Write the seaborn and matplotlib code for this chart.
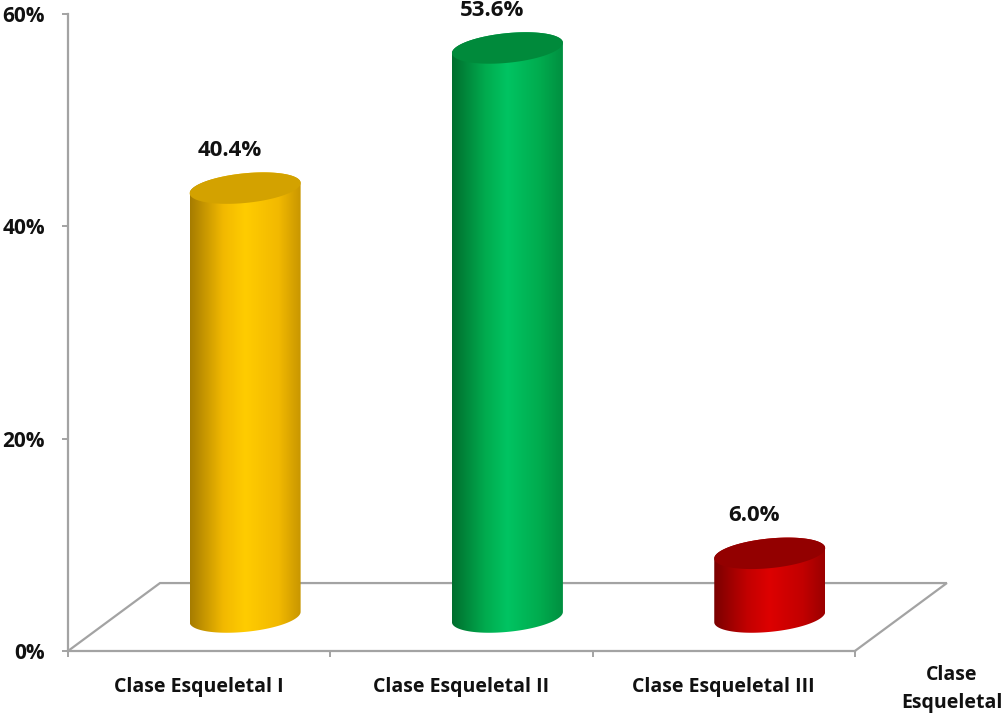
import numpy as np
import pandas as pd
import seaborn as sns
import matplotlib.pyplot as plt
from matplotlib.colors import LinearSegmentedColormap
from matplotlib.path import Path
from matplotlib.patches import PathPatch

categories = ["Clase Esqueletal I", "Clase Esqueletal II", "Clase Esqueletal III"]
values = [40.4, 53.6, 6.0]
value_labels = ["40.4%", "53.6%", "6.0%"]
y_ticks = [0, 20, 40, 60]
y_tick_labels = ["0%", "20%", "40%", "60%"]
axis_title = "Clase\nEsqueletal"

# cylinder shading: left edge, body, highlight, right edge, top face
shades = [
    ("#a67c00", "#f2b900", "#ffcc00", "#c89600", "#d3a200"),
    ("#006e2e", "#00ab4e", "#00c462", "#008f40", "#008a3b"),
    ("#7a0000", "#c20000", "#dd0000", "#9a0000", "#930000"),
]

GRAY = "#a3a3a3"
TEXT = "#111111"
DX, DY = 0.3507, 6.4          # floor depth (x in category units, y in percent)
ELL_B, SHEAR = 1.4, 2.3       # ellipse half-height (%) and tilt (% per unit)

sns.set_theme(style="white")
plt.rcParams["font.family"] = ["Open Sans", "DejaVu Sans"]

fig = plt.figure(figsize=(10.05, 7.15), dpi=100)
ax = fig.add_axes([68 / 1005, 1 - 651 / 715, (948 - 68) / 1005, (651 - 14) / 715])

df = pd.DataFrame({"clase": categories, "pct": values})
sns.barplot(data=df, x="clase", y="pct", width=0.423, ax=ax,
            color="white", saturation=1, errorbar=None)


def ellipse_pts(cx, cy, a, t):
    x = cx + a * np.cos(t)
    y = cy + ELL_B * np.sin(t) + SHEAR * a * np.cos(t)
    return x, y


for patch, shade, label in zip(ax.patches, shades, value_labels):
    w = patch.get_width()
    height = patch.get_height()
    x0 = patch.get_x() + DX / 2
    base = DY / 2
    patch.set_x(x0)
    patch.set_y(base)
    patch.set_facecolor("none")
    patch.set_edgecolor("none")
    a = w / 2
    cx = x0 + a
    top = base + height

    # body outline: front half of the base ellipse, then back along the top
    tb = np.linspace(np.pi, 2 * np.pi, 80)
    bx, by = ellipse_pts(cx, base, a, tb)
    tt = np.linspace(0, np.pi, 80)
    tx, ty = ellipse_pts(cx, top, a, tt)
    verts = np.vstack([np.column_stack([bx, by]), np.column_stack([tx, ty]),
                       [[bx[0], by[0]]]])
    codes = [Path.MOVETO] + [Path.LINETO] * (len(verts) - 2) + [Path.CLOSEPOLY]
    body = PathPatch(Path(verts, codes), facecolor="none", edgecolor="none",
                     transform=ax.transData)
    ax.add_patch(body)

    cmap = LinearSegmentedColormap.from_list(
        "cyl", [(0, shade[0]), (0.3, shade[1]), (0.5, shade[2]),
                (0.8, shade[1]), (1, shade[3])])
    grad = np.linspace(0, 1, 256).reshape(1, -1)
    img = ax.imshow(grad, extent=[cx - a, cx + a, base - 3, top + 3],
                    aspect="auto", cmap=cmap, zorder=3, interpolation="bilinear")
    img.set_clip_path(body)

    # top face
    tf = np.linspace(0, 2 * np.pi, 160)
    fx, fy = ellipse_pts(cx, top, a, tf)
    ax.fill(fx, fy, color=shade[4], zorder=4, lw=0)

    ax.annotate(label, (cx, top), xytext=(-11, 27), textcoords="offset points",
                ha="center", va="center", fontsize=16, fontweight="bold",
                color=TEXT, annotation_clip=False)

# floor outline behind the bars
ax.plot([-0.5, -0.5 + DX, 2.5 + DX, 2.5], [0, DY, DY, 0],
        color=GRAY, lw=1.6, zorder=1, clip_on=False, solid_joinstyle="miter")

ax.set_xlim(-0.5, 2.855)
ax.set_ylim(0, 60)
ax.set_xlabel("")
ax.set_ylabel("")

for side in ("top", "right"):
    ax.spines[side].set_visible(False)
for side in ("left", "bottom"):
    ax.spines[side].set_color(GRAY)
    ax.spines[side].set_linewidth(1.6)
ax.spines["bottom"].set_bounds(-0.5, 2.5)

ax.set_yticks(y_ticks, y_tick_labels)
ax.tick_params(axis="y", left=True, length=4.5, width=1.4, color=GRAY,
               pad=12, labelsize=15, labelcolor=TEXT)
ax.set_xticks([0, 1, 2], categories)
ax.set_xticks([-0.5, 0.5, 1.5, 2.5], minor=True)
ax.tick_params(axis="x", which="major", bottom=True, length=0, pad=19,
               labelsize=14, labelcolor=TEXT)
ax.tick_params(axis="x", which="minor", bottom=True, length=4.5, width=1.4,
               color=GRAY)
for t in ax.get_xticklabels() + ax.get_yticklabels():
    t.set_fontweight("bold")

fig.text(952 / 1005, 1 - 689 / 715, axis_title, ha="center", va="center",
         fontsize=14, fontweight="bold", color=TEXT, linespacing=1.5)

fig.savefig("out.png", dpi=100, facecolor="white")
